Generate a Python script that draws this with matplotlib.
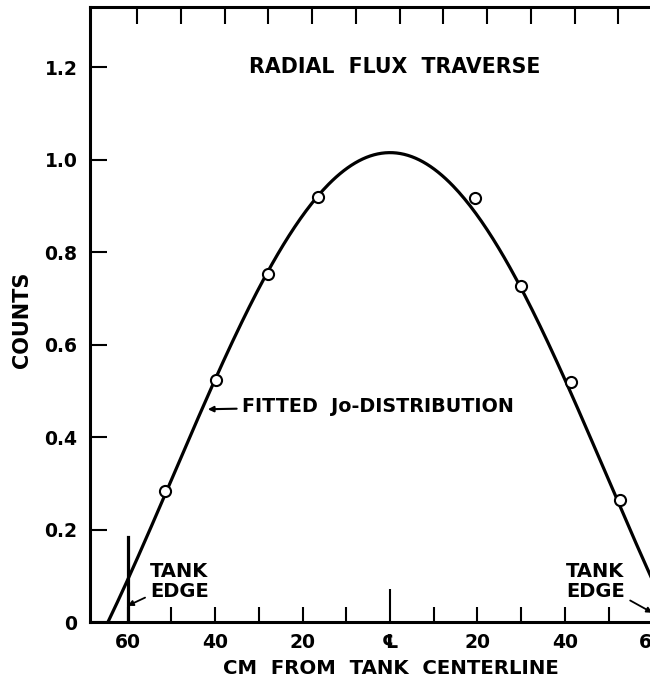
import numpy as np
import matplotlib.pyplot as plt

# measured counts along the radial traverse (cm from tank centerline, left side negative)
pos_cm = [-51.4, -39.8, -27.9, -16.5, 19.4, 29.9, 41.4, 52.6]
counts = [0.283, 0.523, 0.752, 0.919, 0.917, 0.727, 0.519, 0.264]

# fitted J0 distribution: peak value and extrapolated radius (cm)
fit_peak = 1.015
fit_radius = 64.5

xtick_pos = [-60, -40, -20, 0, 20, 40, 60]
xtick_lab = ['60', '40', '20', '\u2104', '20', '40', '60']
ytick_pos = [0, 0.2, 0.4, 0.6, 0.8, 1.0, 1.2]
ytick_lab = ['0', '0.2', '0.4', '0.6', '0.8', '1.0', '1.2']


def j0(x):
    t = np.linspace(0, np.pi, 400)
    return np.trapezoid(np.cos(np.outer(x, np.sin(t))), t, axis=1) / np.pi


plt.rcParams['font.family'] = 'DejaVu Sans'
plt.rcParams['font.weight'] = 'bold'

fig = plt.figure(figsize=(6.5, 6.83), dpi=100)
ax = fig.add_axes([0.1385, 0.0893, 0.923, 0.9005])
ax.set_xlim(-68.6, 68.6)
ax.set_ylim(0, 1.33)

xs = np.linspace(-fit_radius, fit_radius, 300)
ax.plot(xs, fit_peak * j0(2.405 * xs / fit_radius), color='black', lw=2.3, zorder=2)
ax.plot(pos_cm, counts, 'o', ms=8, mfc='white', mec='black', mew=1.5, zorder=3)

# tank edge marker
ax.plot([-60, -60], [0, 0.183], color='black', lw=2.3)

for s in ['left', 'top', 'bottom', 'right']:
    ax.spines[s].set_linewidth(2.2)

ax.set_xticks(xtick_pos)
ax.set_xticklabels(xtick_lab)
ax.set_xticks(np.arange(-50, 60, 20), minor=True)
ax.set_yticks(ytick_pos)
ax.set_yticklabels(ytick_lab)
ax.tick_params(axis='x', which='both', direction='in', length=11, width=1.5,
               pad=8, labelsize=13.5, top=False)
ax.tick_params(axis='y', direction='in', length=12, width=1.5, pad=9, labelsize=13.5)
ax.xaxis.get_major_ticks()[3].tick1line.set_markersize(24)

# ticks along the top edge
top = ax.secondary_xaxis('top')
top.set_xticks(np.arange(-57.8, 60, 10))
top.tick_params(direction='in', length=12, width=1.5, labeltop=False)
top.spines['top'].set_visible(False)

ax.text(1, 1.2, 'RADIAL  FLUX  TRAVERSE', ha='center', va='center', fontsize=14.8)
ax.annotate('FITTED  Jo-DISTRIBUTION', xy=(-42.3, 0.46), xytext=(-33.8, 0.467),
            ha='left', va='center', fontsize=13.8,
            arrowprops=dict(arrowstyle='-|>', color='black', lw=1.5, mutation_scale=8))
ax.annotate('TANK\nEDGE', xy=(-60, 0.035), xytext=(-54.8, 0.088),
            ha='left', va='center', fontsize=14, linespacing=1.1,
            arrowprops=dict(arrowstyle='-|>', color='black', lw=1.3, mutation_scale=8,
                            shrinkA=2, shrinkB=0))
ax.annotate('TANK\nEDGE', xy=(60, 0.02), xytext=(40.3, 0.088),
            ha='left', va='center', fontsize=14, linespacing=1.1,
            arrowprops=dict(arrowstyle='-|>', color='black', lw=1.3, mutation_scale=8,
                            shrinkA=2, shrinkB=0))

fig.text(391 / 650, 1 - 669 / 683, 'CM  FROM  TANK  CENTERLINE', ha='center', va='center',
         fontsize=14.2)
fig.text(22 / 650, 1 - 320 / 683, 'COUNTS', ha='center', va='center', rotation=90,
         fontsize=15)

fig.savefig('out.png', dpi=100)
